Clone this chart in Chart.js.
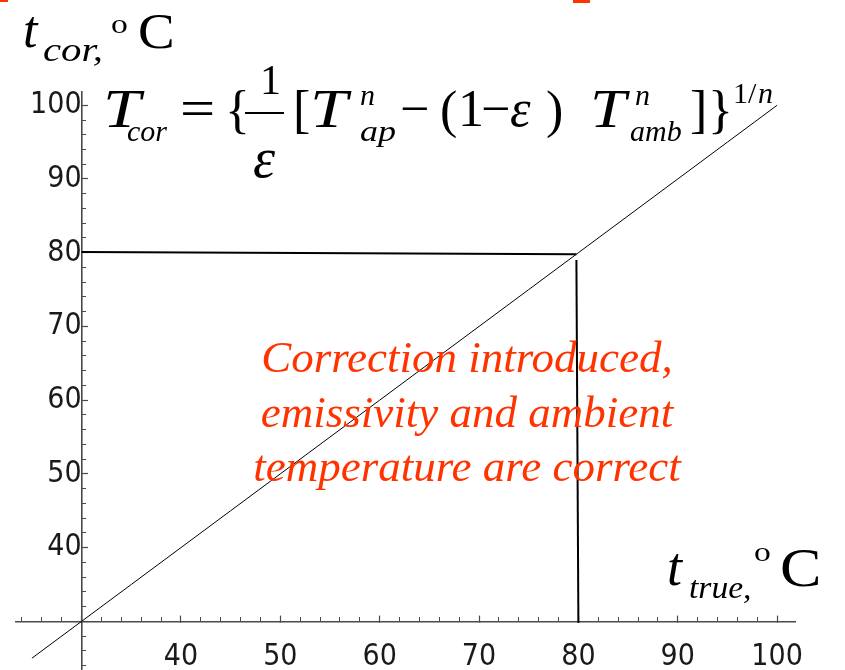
<!DOCTYPE html>
<html>
<head>
<meta charset="utf-8">
<script src="https://cdn.jsdelivr.net/npm/chart.js@4.4.1/dist/chart.umd.min.js"></script>
<style>
  html, body { margin: 0; padding: 0; background: #fff; }
  #wrap { position: relative; width: 845px; height: 670px; overflow: hidden; }
  #wrap canvas { position: absolute; left: 0; top: 0; }
  .t { position: absolute; white-space: nowrap; line-height: 1; color: #000;
       font-family: "Liberation Serif", "Times New Roman", serif; transform-origin: 0 0; }
  .i { font-style: italic; }
  .red { color: #ff3300; }
  .bar { position: absolute; background: #000; }
</style>
</head>
<body>
<div id="wrap"><canvas id="c" width="845" height="720"></canvas></div>
<script>
// data
const diagX = [25, 30, 35, 40, 45, 50, 55, 60, 65, 70, 75, 80, 85, 90, 95, 100];
const diagY = [25, 30, 35, 40, 45, 50, 55, 60, 65, 70, 75, 80, 85, 90, 95, 100];
const horizX = [30, 79.8];
const horizY = [80.1, 79.8];
const vertX = [79.8, 80];
const vertY = [79, 29.8];
const xTickLabels = [40, 50, 60, 70, 80, 90, 100];
const yTickLabels = [40, 50, 60, 70, 80, 90, 100];
const axisMin = 23.4, axisMax = 101.8, crossAt = 30;

const pts = (xs, ys) => xs.map((x, i) => ({ x: x, y: ys[i] }));
const axisColor = '#4a4a4a';
const tickFont = { family: "'Liberation Sans Narrow', 'DejaVu Sans Condensed', 'Liberation Sans', sans-serif", size: 30 };

function majorAxis(labels, pos, pad) {
  return {
    type: 'linear', min: axisMin, max: axisMax, position: pos,
    ticks: { stepSize: 10, includeBounds: false, autoSkip: false, maxRotation: 0,
             padding: pad, color: '#1a1a1a', font: tickFont,
             callback: v => labels.includes(v) ? String(v) : '' },
    grid: { drawOnChartArea: false, tickLength: -7, tickColor: axisColor, tickWidth: 1.2 },
    border: { color: axisColor, width: 1.6 }
  };
}
function minorAxis(axis, pos) {
  return {
    type: 'linear', axis: axis, min: axisMin, max: axisMax, position: pos,
    ticks: { stepSize: 2, includeBounds: false, autoSkip: false, display: false },
    grid: { drawOnChartArea: false, tickLength: -4, tickColor: axisColor, tickWidth: 1 },
    border: { display: false }
  };
}

new Chart(document.getElementById('c'), {
  type: 'scatter',
  data: {
    datasets: [
      { data: pts(diagX, diagY), borderColor: '#000', borderWidth: 1 },
      { data: pts(horizX, horizY), borderColor: '#000', borderWidth: 2 },
      { data: pts(vertX, vertY), borderColor: '#000', borderWidth: 2 }
    ].map(d => Object.assign(d, { showLine: true, pointRadius: 0, tension: 0 }))
  },
  options: {
    responsive: false,
    animation: false,
    layout: { padding: { left: 16, right: 50, top: 92, bottom: 50 } },
    plugins: { legend: { display: false }, tooltip: { enabled: false } },
    scales: {
      x: majorAxis(xTickLabels, { y: crossAt }, 25),
      xMinor: minorAxis('x', { y: crossAt }),
      y: majorAxis(yTickLabels, { x: crossAt }, 12),
      yMinor: minorAxis('y', { x: crossAt })
    }
  }
});

// text pieces: text, left (or centre when centred), baseline, size, class, horizontal stretch
const wrap = document.getElementById('wrap');
function put(txt, x, base, size, cls, sx, centred) {
  const el = document.createElement('span');
  el.className = 't ' + (cls || '');
  el.textContent = txt;
  el.style.fontSize = size + 'px';
  el.style.left = x + 'px';
  el.style.top = (base - 0.8375 * size) + 'px';
  wrap.appendChild(el);
  if (sx && sx !== 1) el.style.transform = 'scaleX(' + sx + ')';
  if (centred) el.style.left = (x - el.getBoundingClientRect().width / 2) + 'px';
}
function bar(x, y, w, h, color) {
  const el = document.createElement('div');
  el.className = 'bar';
  el.style.cssText = 'left:' + x + 'px;top:' + y + 'px;width:' + w + 'px;height:' + h + 'px;' + (color ? 'background:' + color : '');
  wrap.appendChild(el);
}

// y axis title
put('t', 23, 48, 52, 'i');
put('cor,', 43, 61, 34, 'i', 1.2);
put('o', 111, 33, 28, '', 1.2);
put('C', 138, 48, 50, '', 1.1);

// x axis title
put('t', 667, 585, 54, 'i');
put('true,', 689, 598, 32, 'i', 1.05);
put('o', 754, 561, 28, '', 1.2);
put('C', 780, 586, 54, '', 1.15);

// formula
put('T', 103, 127, 54, 'i', 1.25);
put('cor', 127, 141, 30, 'i');
put('=', 180, 127, 52, '', 1.2);
put('{', 225, 128, 52);
put('1', 260, 94, 42);
bar(245, 112, 39, 2);
put('\u03b5', 253, 177, 56, 'i');
put('[', 293, 128, 52);
put('T', 310, 127, 54, 'i', 1.25);
put('n', 360, 105, 30, 'i');
put('ap', 360, 141, 30, 'i', 1.2);
put('\u2212', 400, 127, 52);
put('(', 440, 128, 52);
put('1', 458, 127, 52);
put('\u2212', 481, 127, 52);
put('\u03b5', 510, 127, 52, 'i');
put(')', 546, 128, 52);
put('T', 590, 127, 54, 'i', 1.2);
put('n', 635, 105, 30, 'i');
put('amb', 630, 141, 30, 'i');
put(']', 690, 128, 52);
put('}', 708, 128, 52);
put('1/', 733, 103, 30);
put('n', 758, 103, 30, 'i');

// red annotation
put('Correction introduced,', 467, 373, 45, 'i red', 1, true);
put('emissivity and ambient', 467, 428, 45, 'i red', 1, true);
put('temperature are correct', 467, 482, 45, 'i red', 1, true);

// clipped red marks at the top edge
bar(0, 0, 8, 2, '#ff3300');
bar(573, 0, 17, 3, '#ff3300');
</script>
</body>
</html>
